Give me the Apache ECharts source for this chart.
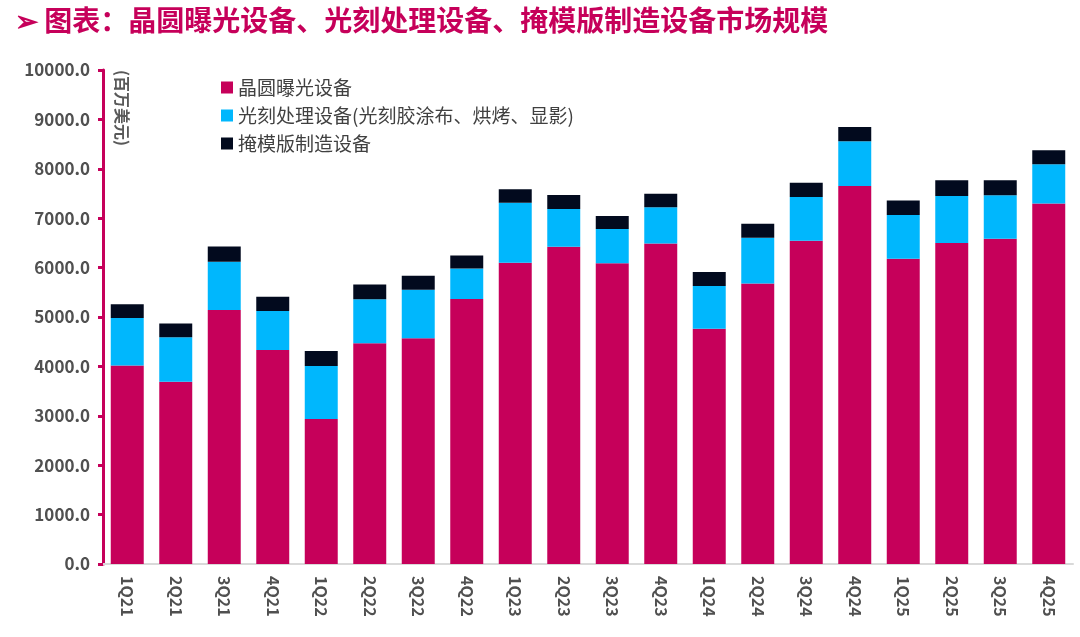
<!DOCTYPE html>
<html>
<head>
<meta charset="utf-8">
<script src="https://cdn.jsdelivr.net/npm/echarts@6/dist/echarts.min.js"></script>
<style>
    html, body { margin: 0; padding: 0; background: #fff; }
    #main { width: 1080px; height: 637px; }
</style>
</head>
<body>
<div id="main"></div>
<script>
// 季度
const quarters = ['1Q21', '2Q21', '3Q21', '4Q21', '1Q22', '2Q22', '3Q22', '4Q22', '1Q23', '2Q23',
    '3Q23', '4Q23', '1Q24', '2Q24', '3Q24', '4Q24', '1Q25', '2Q25', '3Q25', '4Q25']
// 晶圆曝光设备 (百万美元)
const exposure = [4020, 3690, 5140, 4330, 2935, 4470, 4570, 5365, 6100, 6420,
    6090, 6490, 4760, 5680, 6545, 7650, 6180, 6500, 6585, 7300]
// 光刻处理设备
const litho = [960, 900, 980, 790, 1075, 890, 980, 615, 1215, 765,
    690, 730, 870, 925, 885, 910, 885, 950, 880, 790]
// 掩模版制造设备
const mask = [280, 280, 305, 290, 300, 300, 283, 265, 270, 285,
    265, 275, 280, 285, 290, 285, 295, 320, 305, 285]

const names = ['晶圆曝光设备', '光刻处理设备(光刻胶涂布、烘烤、显影)', '掩模版制造设备']
const colors = ['#C6005A', '#00B7FD', '#020A1E']

const cs = echarts.init(document.getElementById('main'))

const seriesData = [exposure, litho, mask].map((d, i) => ({
    type: 'bar',
    name: names[i],
    stack: 'total',
    data: d,
    barWidth: '68%',
    itemStyle: { color: colors[i] }
}))

const option = {
    animation: false,
    textStyle: { fontFamily: '"Noto Sans CJK SC", "Noto Sans", sans-serif' },
    title: {
        text: '➢ 图表：晶圆曝光设备、光刻处理设备、掩模版制造设备市场规模',
        left: 10,
        top: 1,
        textStyle: { color: '#C6005A', fontSize: 28, fontWeight: 'bold' }
    },
    legend: {
        orient: 'vertical',
        left: 216,
        top: 72,
        itemWidth: 12,
        itemHeight: 12,
        itemGap: 7,
        icon: 'rect',
        textStyle: { color: '#404040', fontSize: 19, lineHeight: 21 }
    },
    graphic: [{
        type: 'text',
        left: 114,
        top: 70,
        rotation: -Math.PI / 2,
        style: {
            text: '(百万美元)',
            fill: '#595959',
            font: 'bold 16px "Noto Sans CJK SC", sans-serif'
        }
    }],
    grid: { left: 103, right: 7, top: 70, bottom: 73 },
    xAxis: {
        type: 'category',
        data: quarters,
        axisLine: { lineStyle: { color: '#d9d9d9', width: 2 } },
        axisTick: { show: false },
        axisLabel: {
            rotate: -90,
            color: '#505050',
            fontSize: 16,
            fontWeight: 'bold',
            margin: 12
        }
    },
    yAxis: {
        type: 'value',
        min: 0,
        max: 10000,
        interval: 1000,
        axisLine: { show: true, lineStyle: { color: '#C6005A', width: 3 } },
        axisTick: { show: true, length: 5, lineStyle: { color: '#C6005A', width: 3 } },
        splitLine: { show: false },
        axisLabel: {
            color: '#505050',
            fontSize: 17,
            fontWeight: 'bold',
            margin: 13,
            formatter: (v) => v.toFixed(1)
        }
    },
    series: seriesData
}
cs.setOption(option)
</script>
</body>
</html>
